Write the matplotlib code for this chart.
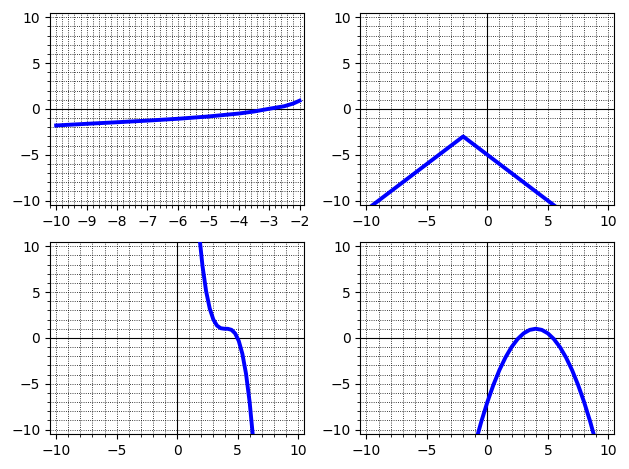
import matplotlib.pyplot as plt
from matplotlib.ticker import MultipleLocator

tl_x = [-10, -9, -8, -7, -6, -5, -4, -3.5, -3, -2.5, -2.2, -2]
tl_y = [-1.8, -1.62, -1.45, -1.27, -1.07, -0.82, -0.5, -0.28, 0.02, 0.3, 0.6, 0.9]

# top-right: V shape
tr_x = [-10, -2, 10]
tr_y = [-11, -3, -15]

# bottom-left: falling curve with a shelf near x=4
bl_x = [1.8, 2.1, 2.4, 2.7, 3.0, 3.3, 3.6, 3.9, 4.2, 4.5, 4.8, 5.1, 5.4, 5.7, 6.0, 6.3]
bl_y = [11.65, 7.86, 5.10, 3.20, 2.0, 1.34, 1.06, 1.0, 0.99, 0.88, 0.49, -0.33, -1.74, -3.91, -7.0, -11.17]

# bottom-right: downward parabola
br_x = [-1, -0.5, 0, 0.5, 1, 1.5, 2, 2.5, 3, 3.5, 4, 4.5, 5, 5.5, 6, 6.5, 7, 7.5, 8, 8.5, 9]
br_y = [-11.5, -9.125, -7, -5.125, -3.5, -2.125, -1, -0.125, 0.5, 0.875, 1,
        0.875, 0.5, -0.125, -1, -2.125, -3.5, -5.125, -7, -9.125, -11.5]

fig, axes = plt.subplots(2, 2, figsize=(6.29, 4.69), dpi=100)
panels = [(tl_x, tl_y, (-10.2, -1.85)), (tr_x, tr_y, (-10.5, 10.5)),
          (bl_x, bl_y, (-10.5, 10.5)), (br_x, br_y, (-10.5, 10.5))]

for i, (ax, (x, y, xl)) in enumerate(zip(axes.flat, panels)):
    ax.plot(x, y, color='blue', lw=2.8, zorder=3)
    ax.set_xlim(*xl)
    ax.set_ylim(-10.5, 10.5)
    ax.yaxis.set_major_locator(MultipleLocator(5))
    ax.yaxis.set_minor_locator(MultipleLocator(1))
    if i == 0:
        ax.xaxis.set_major_locator(MultipleLocator(1))
        ax.xaxis.set_minor_locator(MultipleLocator(0.2))
    else:
        ax.xaxis.set_major_locator(MultipleLocator(5))
        ax.xaxis.set_minor_locator(MultipleLocator(1))
    ax.grid(True, which='both', color='black', linestyle=':', linewidth=0.6)
    ax.axhline(0, color='black', lw=0.8)
    ax.axvline(0, color='black', lw=0.8)

fig.tight_layout(pad=0.8)
fig.savefig('out.png')
